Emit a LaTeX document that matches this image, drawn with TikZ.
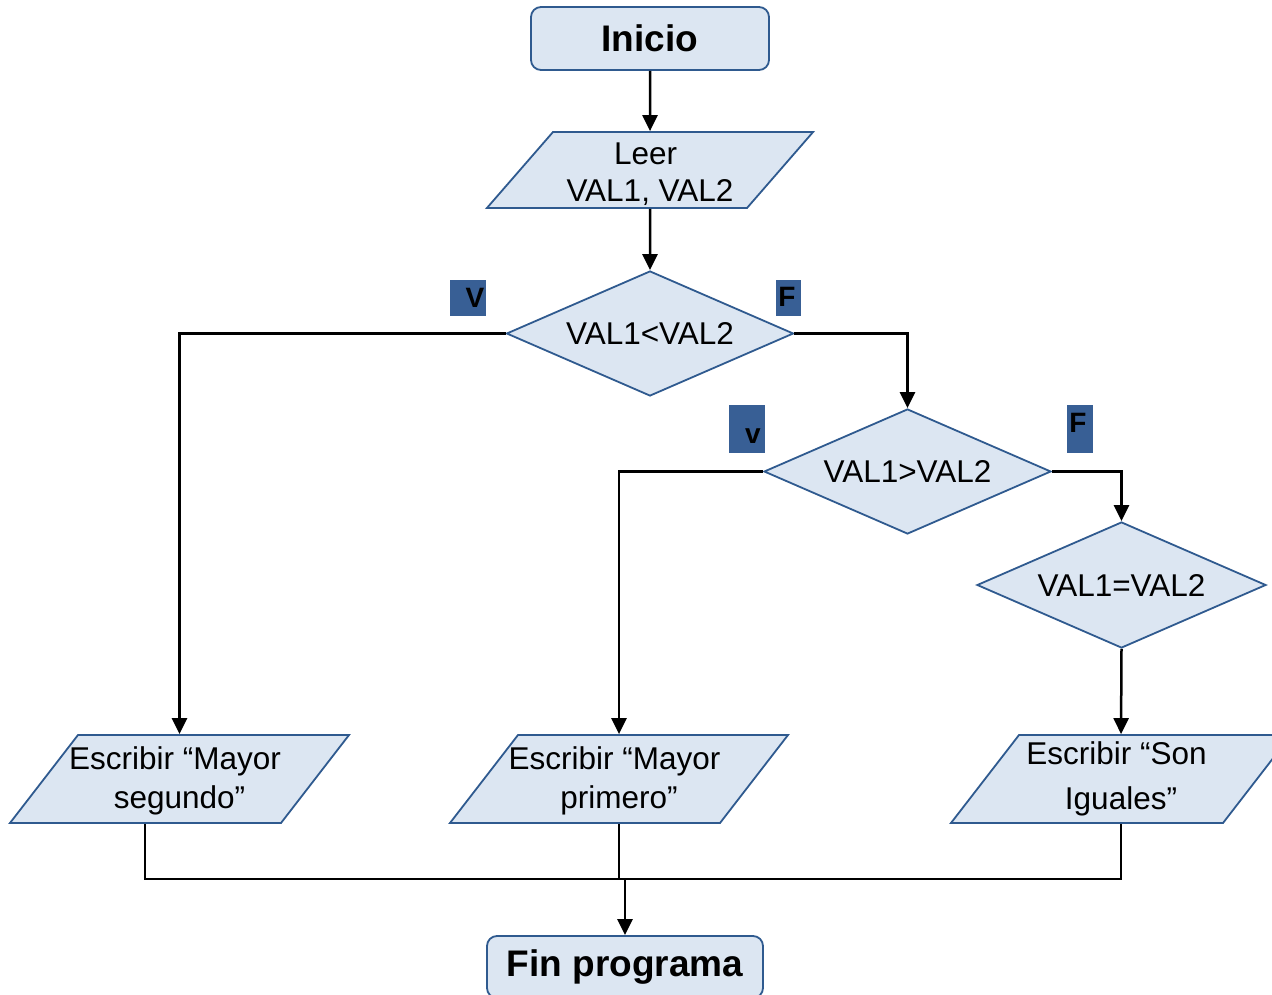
\documentclass[tikz,border=0pt]{standalone}
\usepackage{fontspec}
\setmainfont{Liberation Sans}
\usetikzlibrary{shapes.geometric,arrows.meta,calc}
\definecolor{shapefill}{HTML}{DCE6F2}
\definecolor{shapeline}{HTML}{2F5A8F}
\definecolor{tagfill}{HTML}{385F95}
\newcommand{\tailsp}{\hspace*{0.28em}}
% fixed-size text body for the slanted boxes: width, height, lines
\newcommand{\iobody}[3]{\parbox[c][#2][c]{#1}{#3}}
\newcommand{\ioline}[1]{\makebox[\linewidth]{#1}}
\tikzset{
  conn/.style={line width=2.5pt,black},
  arr/.style={conn,-{Triangle[width=15pt,length=16pt]}},
  term/.style={rectangle,rounded corners=10pt,draw=shapeline,fill=shapefill,line width=1.8pt,
    inner sep=0pt,font=\fontsize{37}{40}\selectfont\bfseries},
  io/.style={trapezium,draw=shapeline,fill=shapefill,line width=1.8pt,
    inner sep=0pt,font=\fontsize{31.5}{39}\selectfont},
  decision/.style={diamond,aspect=2.3,draw=shapeline,fill=shapefill,line width=1.8pt,
    inner sep=0pt,font=\fontsize{31.5}{36}\selectfont,minimum width=287pt,minimum height=125pt},
  tagbox/.style={rectangle,fill=tagfill,inner sep=0pt},
  tagtext/.style={inner sep=0pt,font=\fontsize{28}{30}\selectfont\bfseries}
}
\begin{document}
\begin{tikzpicture}[x=1pt,y=-1pt]
\useasboundingbox (0,0) rectangle (1272,995);
\clip (0,0) rectangle (1272,995);

% terminals
\node[term,minimum width=238pt,minimum height=63pt] (inicio) at (650,38.5) {Inicio};
\node[term,minimum width=276pt,minimum height=62pt] (fin) at (625,967) {Fin programa};

% input
\node[io,trapezium left angle=49,trapezium right angle=131] (leer) at (650,170)
  {\iobody{194pt}{76pt}{\vspace*{8pt}\ioline{Leer\tailsp}\\[-2pt]\ioline{VAL1, VAL2}}};

% decisions
\node[decision] (d1) at (650,333.5) {VAL1<VAL2};
\node[decision] (d2) at (907.5,471.5) {VAL1>VAL2};
\node[decision,minimum width=289pt,minimum height=126pt] (d3) at (1121.5,585) {VAL1=VAL2};

% outputs
\node[io,trapezium left angle=52.3,trapezium right angle=127.7] (p1) at (179.5,779)
  {\iobody{203pt}{88pt}{\vspace*{4pt}\ioline{Escribir “Mayor\tailsp}\\\ioline{segundo”}}};
\node[io,trapezium left angle=52.3,trapezium right angle=127.7] (p2) at (619,779)
  {\iobody{202pt}{88pt}{\vspace*{4pt}\ioline{Escribir “Mayor\tailsp}\\\ioline{primero”}}};
\node[io,trapezium left angle=52.3,trapezium right angle=127.7] (p3) at (1121,779)
  {\iobody{204pt}{88pt}{\ioline{Escribir “Son\tailsp}\\[6pt]\ioline{Iguales”}}};

% branch tags
\node[tagbox,minimum width=36pt,minimum height=36pt] (tv1) at (468,298) {};
\node[tagtext] at (475,298) {V};
\node[tagbox,minimum width=25pt,minimum height=36pt] (tf1) at (788.5,298) {};
\node[tagtext] at (787,297) {F};
\node[tagbox,minimum width=36pt,minimum height=48pt] (tv2) at (747,429) {};
\node[tagtext] at (753,436) {v};
\node[tagbox,minimum width=26pt,minimum height=48pt] (tf2) at (1080,429) {};
\node[tagtext] at (1078,423) {F};

% connectors
\draw[arr] (inicio) -- (leer);
\draw[arr] (leer.south) -- (d1.north);
\draw[arr] (d1.west) -| (p1.north);
\draw[arr] (d1.east) -| (d2.north);
\draw[arr] (d2.west) -| (p2.north);
\draw[arr] (d2.east) -| (d3.north);
\draw[arr] (d3.south) -- (p3.north);

\coordinate (p1out) at ($(p1.bottom left corner)!0.5!(p1.bottom right corner)$);
\coordinate (merge) at (625,879);
\draw[conn] (p1out) |- (merge) -| (p3.south);
\draw[conn] (p2.south) -- (p2.south |- merge);
\draw[arr] (merge) -- (fin.north);
\end{tikzpicture}
\end{document}
